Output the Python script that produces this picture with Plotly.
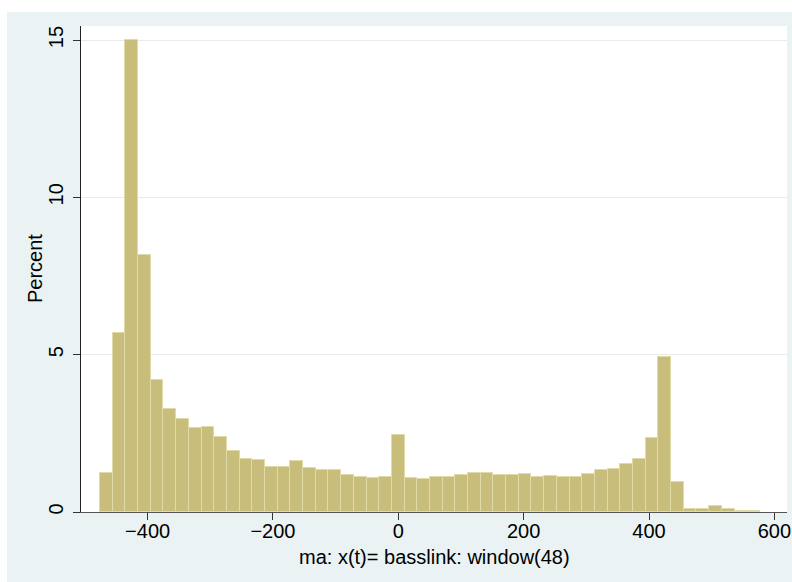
import plotly.graph_objects as go

bin_start = -476.0
bin_width = 20.25
percent = [1.23, 5.69, 15.0, 8.17, 4.20, 3.28, 2.96, 2.66, 2.71, 2.39,
           1.93, 1.68, 1.65, 1.42, 1.42, 1.61, 1.39, 1.32, 1.32, 1.18,
           1.11, 1.07, 1.11, 2.45, 1.07, 1.04, 1.10, 1.10, 1.17, 1.23,
           1.23, 1.19, 1.19, 1.20, 1.10, 1.14, 1.12, 1.12, 1.21, 1.34,
           1.37, 1.53, 1.69, 2.36, 4.94, 0.95, 0.10, 0.10, 0.19, 0.10,
           0.03, 0.03]
x_ticks = [-400, -200, 0, 200, 400, 600]
y_ticks = [0, 5, 10, 15]
x_title = "ma: x(t)= basslink: window(48)"
y_title = "Percent"

centers = [bin_start + bin_width * (i + 0.5) for i in range(len(percent))]

W, H = 792, 582
ml, mr, mt, mb = 81, 5, 26, 70
pw, ph = W - ml - mr, H - mt - mb

bg = "#eaf2f3"
font = "Liberation Sans, Arial, Helvetica, sans-serif"
fs = 20

fig = go.Figure(go.Bar(
    x=centers, y=percent, width=bin_width,
    marker=dict(color="#c9bd7b", line=dict(color="#e0d9a8", width=1)),
    hoverinfo="x+y",
))

shapes = [
    dict(type="rect", xref="paper", yref="paper",
         x0=-ml / pw, x1=1 + mr / pw, y0=1 + (mt - 12) / ph, y1=1 + mt / ph,
         fillcolor="white", line=dict(width=0), layer="below"),
    dict(type="rect", xref="paper", yref="paper",
         x0=-ml / pw, x1=-(ml - 7) / pw, y0=-mb / ph, y1=1 + mt / ph,
         fillcolor="white", line=dict(width=0), layer="below"),
]

annotations = [
    dict(text=x_title, xref="paper", yref="paper", x=0.5,
         y=-(557 - (mt + ph)) / ph, xanchor="center", yanchor="middle",
         showarrow=False, font=dict(size=fs)),
    dict(text=y_title, xref="paper", yref="paper", x=-(ml - 35) / pw,
         y=0.5, xanchor="center", yanchor="middle", textangle=-90,
         showarrow=False, font=dict(size=fs)),
]

fig.update_layout(
    width=W, height=H,
    margin=dict(l=ml, r=mr, t=mt, b=mb, pad=0),
    paper_bgcolor=bg, plot_bgcolor="white",
    showlegend=False, bargap=0,
    shapes=shapes, annotations=annotations,
    font=dict(family=font, size=fs, color="black"),
    xaxis=dict(
        range=[-506.3, 620.2], tickvals=x_ticks, ticks="outside", ticklen=7,
        tickcolor="#333333", tickwidth=1, showgrid=False, zeroline=False,
        showline=True, linecolor="#555555", linewidth=1,
        tickfont=dict(size=fs), ticklabelstandoff=-6,
        automargin=False,
    ),
    yaxis=dict(
        range=[0, 15.445], tickvals=y_ticks, ticks="outside", ticklen=7,
        tickcolor="#333333", tickwidth=1, showgrid=True, gridcolor="#e4eced",
        gridwidth=1, zeroline=False, tickangle=-90,
        showline=True, linecolor="#222222", linewidth=1,
        tickfont=dict(size=fs), ticklabelstandoff=2,
        automargin=False,
    ),
)

fig.write_html("out.html")
